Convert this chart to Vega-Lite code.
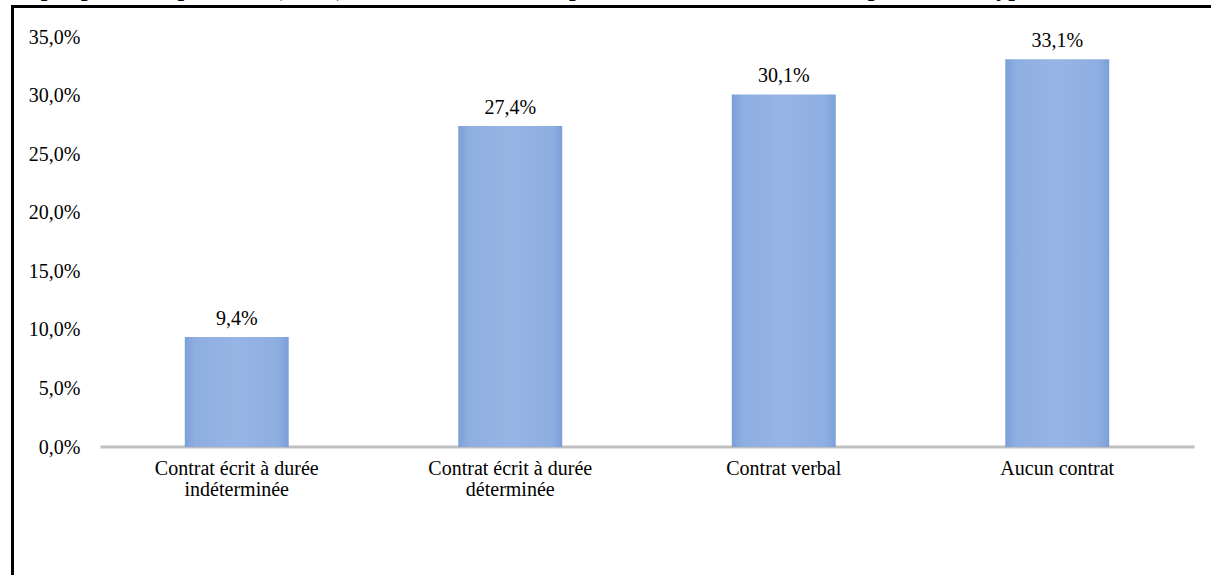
{
  "$schema": "https://vega.github.io/schema/vega-lite/v6.json",
  "autosize": "none",
  "width": 1260,
  "height": 640,
  "padding": {"left": 12.5, "top": 6.5, "right": 0, "bottom": 0},
  "background": "#ffffff",
  "title": {
    "text": "Graphique 6 : Répartition (en %) des Salariés des entreprises associés aux PMS occupés selon le type de contrat",
    "anchor": "start",
    "frame": "group",
    "orient": "top",
    "baseline": "bottom",
    "offset": 0,
    "dy": 18,
    "dx": -13,
    "font": "Liberation Serif",
    "fontSize": 24,
    "fontWeight": "bold",
    "color": "#000000"
  },
  "data": {
    "values": [
      {"contrat": "Contrat écrit à durée|indéterminée", "part": 0.094},
      {"contrat": "Contrat écrit à durée|déterminée", "part": 0.274},
      {"contrat": "Contrat verbal", "part": 0.301},
      {"contrat": "Aucun contrat", "part": 0.331}
    ]
  },
  "encoding": {
    "x": {
      "field": "contrat",
      "type": "nominal",
      "sort": null,
      "scale": {"range": [87.5, 1181.5], "paddingInner": 0.62, "paddingOuter": 0.31},
      "axis": {
        "title": null,
        "orient": "bottom",
        "offset": -200,
        "labelAngle": 0,
        "labelExpr": "split(datum.label, '|')",
        "labelLineHeight": 21,
        "labelPadding": 12,
        "labelBaseline": "top",
        "ticks": false,
        "domain": true,
        "domainColor": "#bfbfbf",
        "domainWidth": 3,
        "labelFont": "Liberation Serif",
        "labelFontSize": 20,
        "labelColor": "#000000",
        "labelLimit": 0
      }
    },
    "y": {
      "field": "part",
      "type": "quantitative",
      "scale": {"domain": [0, 0.35], "range": [440.5, 30.5], "nice": false, "zero": true},
      "axis": {
        "title": null,
        "orient": "left",
        "offset": -67.5,
        "values": [0, 0.05, 0.1, 0.15, 0.2, 0.25, 0.3, 0.35],
        "format": ".1%",
        "ticks": false,
        "domain": false,
        "grid": false,
        "labelPadding": 0,
        "labelFont": "Liberation Serif",
        "labelFontSize": 20,
        "labelColor": "#000000"
      }
    }
  },
  "layer": [
    {
      "mark": {
        "type": "bar",
        "fill": {
          "gradient": "linear",
          "x1": 0, "y1": 0, "x2": 1, "y2": 0,
          "stops": [
            {"offset": 0, "color": "#7a9fd8"},
            {"offset": 0.1, "color": "#8eaee1"},
            {"offset": 0.5, "color": "#97b5e4"},
            {"offset": 0.9, "color": "#8eaee1"},
            {"offset": 1, "color": "#7a9fd8"}
          ]
        }
      }
    },
    {
      "mark": {
        "type": "text",
        "baseline": "bottom",
        "dy": -8,
        "font": "Liberation Serif",
        "fontSize": 20,
        "color": "#000000"
      },
      "encoding": {
        "text": {"field": "part", "type": "quantitative", "format": ".1%"}
      }
    }
  ],
  "config": {
    "locale": {
      "number": {
        "decimal": ",",
        "thousands": " ",
        "grouping": [3],
        "currency": ["", " €"]
      }
    },
    "view": {"stroke": "#000000", "strokeWidth": 3}
  }
}
